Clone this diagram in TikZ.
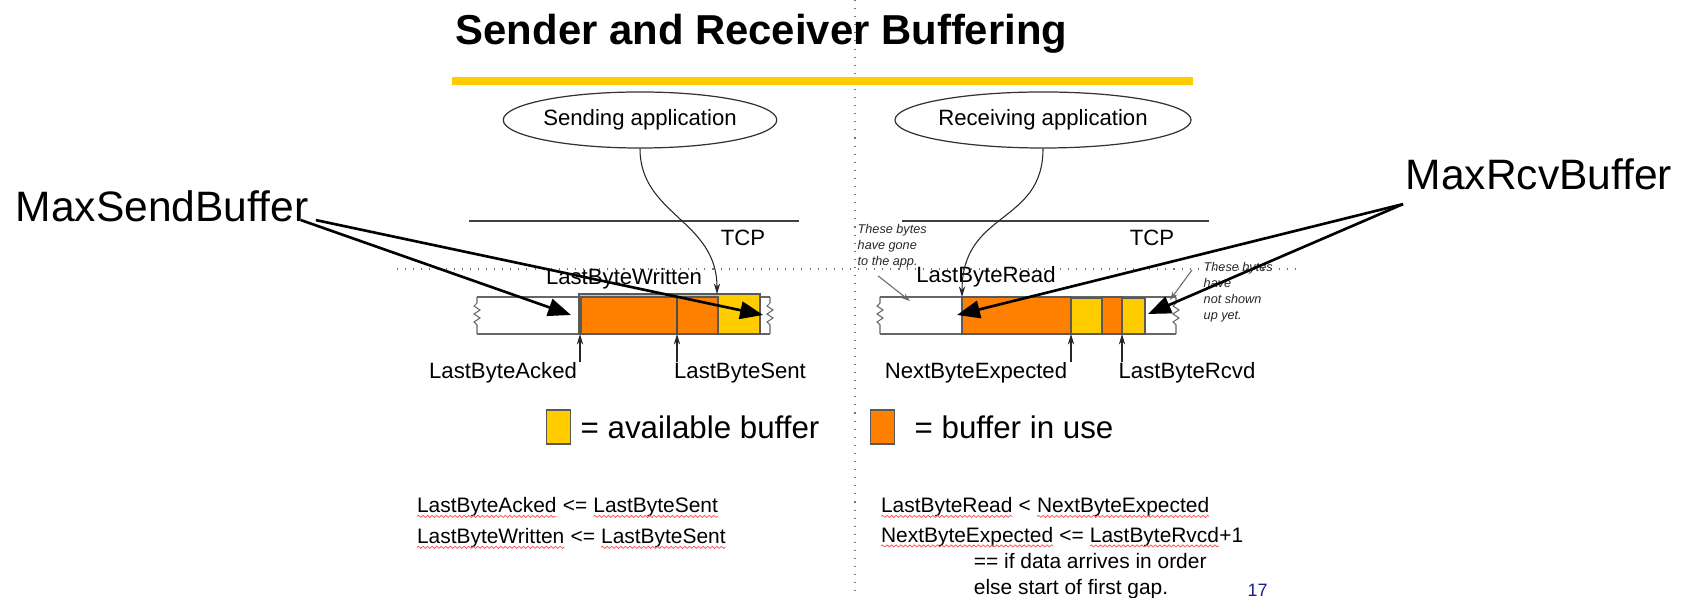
\documentclass[tikz,border=0pt]{standalone}
\usepackage{fontspec}
\setmainfont{Liberation Sans}
\usetikzlibrary{arrows.meta,shapes.geometric,decorations.pathmorphing}

\definecolor{bufyellow}{RGB}{255,204,0}
\definecolor{bufred}{RGB}{255,128,0}
\definecolor{pagenum}{RGB}{30,30,150}

\tikzset{
  headline/.style={font=\bfseries\fontsize{11.9}{14}\selectfont, inner sep=0pt},
  lbl/.style={font=\fontsize{6.3}{7.5}\selectfont, inner sep=0pt},
  maxlbl/.style={font=\fontsize{12.1}{14}\selectfont, inner sep=0pt},
  keytxt/.style={font=\fontsize{8.9}{10}\selectfont, inner sep=0pt},
  eq/.style={font=\fontsize{5.95}{8.8}\selectfont, align=left, inner sep=0pt},
  aside/.style={font=\fontsize{3.6}{4.5}\selectfont\itshape, align=left, inner sep=0pt, text=black!85},
  app/.style={ellipse, draw=black!80, line width=0.35pt, minimum width=2.41cm, minimum height=0.56cm, inner sep=0pt, font=\fontsize{6.3}{7.5}\selectfont},
  guide/.style={draw=black!55, line width=0.3pt, dotted},
  layer/.style={draw=black!75, line width=0.35pt},
  strip/.style={draw=black!60, line width=0.5pt},
  inuse/.style={fill=bufred, draw=black!65, line width=0.3pt},
  avail/.style={fill=bufyellow, draw=black!65, line width=0.3pt},
  ptr/.style={draw=black!85, line width=0.3pt, -{Stealth[length=3pt,width=1.8pt]}},
  thinptr/.style={draw=black!60, line width=0.3pt, -{Stealth[length=2.4pt,width=1.6pt]}},
  maxptr/.style={line width=0.75pt, -{Triangle[length=6.5pt,width=5pt]}},
  wavy/.style={draw=red!70, line width=0.2pt, decorate, decoration={snake, amplitude=0.3pt, segment length=1.3pt}}
}
\newcommand\spell[1]{\tikz[baseline=(wd.base)]{\node[inner sep=0pt, outer sep=0pt] (wd) {#1}; \draw[wavy] ([yshift=-1pt]wd.base west) -- ([yshift=-1pt]wd.base east);}}

\begin{document}
\begin{tikzpicture}[x=0.01cm, y=-0.01cm]
\useasboundingbox (0,0) rectangle (1682,598);

\draw[guide] (855,0) -- (855,598);
\draw[guide] (397,269) -- (1300,269);

\node[headline, anchor=base west] (ttl) at (455,45) {Sender and Receiver Buffering};
\fill[bufyellow] (452,77) rectangle (1193,85);

\node[app] (sendapp) at (640,120) {Sending application};
\node[app] (rcvapp) at (1043,120) {Receiving application};

\draw[layer] (469,221) -- (799,221);
\draw[layer] (902,221) -- (1209,221);
\node[lbl] (tcpl) at (743,238) {TCP};
\node[lbl] (tcpr) at (1152,238) {TCP};

% buffers
\draw[strip] (477,297) -- (770,297) (477,334) -- (770,334);
\draw[strip] (880,297) -- (1176,297) (880,334) -- (1176,334);
\foreach \x in {477,770,880,1176}
  \draw[draw=black!60, line width=0.3pt] (\x,297) -- ++(0,6) -- ++(-3,3) -- ++(6,4) -- ++(-6,4) -- ++(6,4) -- ++(-6,4) -- ++(3,3) -- (\x,334);

\draw[avail] (579,294) rectangle (760,334);
\draw[inuse] (581,297) rectangle (718,334);
\draw[draw=black!70, line width=0.3pt] (677,297) -- (677,334);

\draw[inuse] (962,297) rectangle (1071,334);
\draw[avail] (1071,298) rectangle (1102,334);
\draw[inuse] (1102,297) rectangle (1122,334);
\draw[avail] (1122,298) rectangle (1145,334);

\coordinate (acked) at (580,334);
\coordinate (sent) at (677,334);
\coordinate (wrote) at (717,294);
\coordinate (read) at (962,297);
\coordinate (expected) at (1071,334);
\coordinate (rcvd) at (1122,334);
\coordinate (gone) at (910,301);
\coordinate (notyet) at (1170,300);

\node[lbl] (lbw) at (624,279) {LastByteWritten};
\node[lbl] (lba) at (503,373) {LastByteAcked};
\node[lbl] (lbs) at (740,373) {LastByteSent};
\node[lbl] (lbr) at (986,277) {LastByteRead};
\node[lbl] (nbe) at (976,373) {NextByteExpected};
\node[lbl] (lbrc) at (1187,373) {LastByteRcvd};

\draw[ptr] (sendapp.south) .. controls (640,215) and (717,220) .. (wrote);
\draw[ptr] (rcvapp.south) .. controls (1043,225) and (962,210) .. (read);
\draw[ptr] (lba.north -| acked) -- (acked);
\draw[ptr] (lbs.north -| sent) -- (sent);
\draw[ptr] (nbe.north -| expected) -- (expected);
\draw[ptr] (lbrc.north -| rcvd) -- (rcvd);

\node[aside, anchor=north west] (gonenote) at (857,224) {These bytes\\have gone\\to the app.};
\node[aside, anchor=north west] (yetnote) at (1203,262) {These bytes\\have\\not shown\\up yet.};
\draw[thinptr] ([shift={(21,7)}]gonenote.south west) -- (gone);
\draw[thinptr] ([shift={(-11,8)}]yetnote.north west) -- (notyet);

\node[maxlbl, anchor=base west] (msb) at (15,222) {MaxSendBuffer};
\node[maxlbl, anchor=base west] (mrb) at (1405,190) {MaxRcvBuffer};
\coordinate (sndlo) at (571,315);
\coordinate (sndhi) at (763,315);
\coordinate (rcvlo) at (957,315);
\coordinate (rcvhi) at (1148,314);
\draw[maxptr] ([shift={(-8,-3)}]msb.south east) -- (sndlo);
\draw[maxptr] ([shift={(7,-3)}]msb.south east) -- (sndhi);
\draw[maxptr] ([shift={(-2,13)}]mrb.south west) -- (rcvlo);
\draw[maxptr] ([shift={(-2,13)}]mrb.south west) -- (rcvhi);

\node[avail, minimum width=0.24cm, minimum height=0.34cm, inner sep=0pt] (keyavail) at (558.5,427) {};
\node[keytxt, anchor=west] (keyavailtxt) at (580,427) {= available buffer};
\node[inuse, minimum width=0.24cm, minimum height=0.34cm, inner sep=0pt] (keyinuse) at (882.5,427) {};
\node[keytxt, anchor=west] (keyinusetxt) at (914,427) {= buffer in use};

\node[eq, anchor=north west] (sndeq) at (416,497)
  {\spell{LastByteAcked} <= \spell{LastByteSent}\\\spell{LastByteWritten} <= \spell{LastByteSent}};
\node[eq, font=\fontsize{5.95}{7.4}\selectfont, anchor=north west] (rcveq) at (880,497)
  {\spell{LastByteRead} < \spell{NextByteExpected}\\[1pt]\spell{NextByteExpected} <= \spell{LastByteRvcd}+1\\
   \hspace*{26.5pt}== if data arrives in order\\\hspace*{26.5pt}else start of first gap.};
\node[font=\fontsize{5.1}{6}\selectfont, text=pagenum, inner sep=0pt, anchor=base west] (pgno) at (1247,597) {17};
\end{tikzpicture}
\end{document}
